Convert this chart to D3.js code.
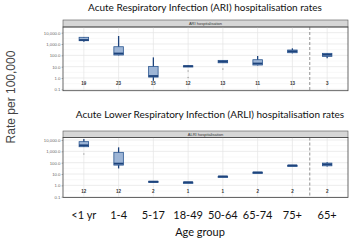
<!DOCTYPE html>
<html>
<head>
<meta charset="utf-8">
<script src="https://cdn.jsdelivr.net/npm/d3@7"></script>
<style>
  body { margin: 0; background: #fff; }
  svg { display: block; }
</style>
</head>
<body>
<div id="chart"></div>
<script>
////////////////////////////////////////////////////////////
//////////////////// Data ///////////
////////////////////////////////////////////////////////////

var ageGroups = ["<1 yr", "1-4", "5-17", "18-49", "50-64", "65-74", "75+", "65+"];
var yTicks = [0.1, 1, 10, 100, 1000, 10000];

// ARI hospitalisation
var ariLow  = [1600, 100, 0.56, 9.5, 21, 13, 150, 54];
var ariQ1   = [1950, 107, 1.2, 9.8, 22, 14, 170, 81];
var ariMed  = [2250, 145, 1.5, 11, 28, 19, 225, 113];
var ariQ3   = [3900, 575, 10.6, 12, 36, 41, 295, 150];
var ariHigh = [4150, 5100, 66, 12.5, 37, 87, 415, 160];
var ariOut  = [[], [], [], [4.1, 1.1], [6.1], [], [], []];
var ariN    = [19, 23, 15, 12, 13, 11, 13, 3];

// ALRI hospitalisation
var alriLow  = [2400, 31, 1.85, 1.9, 6.2, 13, 58, 46];
var alriQ1   = [2550, 61, 1.9, 1.9, 6.2, 13.2, 58, 53];
var alriMed  = [3400, 83, 2.1, 1.9, 6.2, 13.8, 58, 71];
var alriQ3   = [7100, 815, 2.3, 1.9, 6.2, 14.4, 58, 92];
var alriHigh = [12300, 2250, 2.35, 1.9, 6.2, 14.6, 58, 110];
var alriOut  = [[575], [], [], [], [], [], [], []];
var alriN    = [12, 12, 2, 1, 1, 2, 2, 2];

var countLevel = 0.3; // where the n labels sit on the log axis

////////////////////////////////////////////////////////////

var W = 353, H = 241;
var left = 63, right = 348;

var svg = d3.select("#chart").append("svg")
  .attr("width", W)
  .attr("height", H);

var x = d3.scalePoint()
  .domain(ageGroups)
  .range([left, right])
  .padding(0.6);

var boxW = 9.5;
var boxFill = "#9db5d6", boxLine = "#2b5690", medLine = "#1d437c";

function rows(low, q1, med, q3, high, out, n) {
  return ageGroups.map(function (g, i) {
    return { group: g, low: low[i], q1: q1[i], med: med[i], q3: q3[i], high: high[i], out: out[i], n: n[i] };
  });
}

function renderPanel(p) {
  var g = svg.append("g");

  var y = d3.scaleLog()
    .domain(p.domain)
    .range([p.bottom, p.top]);

  // strip header
  g.append("rect")
    .attr("x", left).attr("y", p.stripTop)
    .attr("width", right - left).attr("height", p.top - p.stripTop)
    .attr("fill", "#d6d6d6").attr("stroke", "#555").attr("stroke-width", 0.6);
  g.append("text")
    .attr("x", (left + right) / 2).attr("y", p.stripTop + (p.top - p.stripTop) / 2 + 1.4)
    .attr("text-anchor", "middle")
    .style("font-family", "Liberation Sans, Arial, sans-serif")
    .style("font-size", "4px")
    .attr("fill", "#333")
    .text(p.strip);

  // minor + major gridlines
  var minor = yTicks.map(function (t) { return t * Math.sqrt(10); });
  g.selectAll(".minor").data(minor.filter(function (v) { return y(v) > p.top; }))
    .enter().append("line")
    .attr("x1", left).attr("x2", right)
    .attr("y1", function (d) { return y(d); }).attr("y2", function (d) { return y(d); })
    .attr("stroke", "#f0f0f0").attr("stroke-width", 0.5);
  g.selectAll(".major").data(yTicks)
    .enter().append("line")
    .attr("x1", left).attr("x2", right)
    .attr("y1", function (d) { return y(d); }).attr("y2", function (d) { return y(d); })
    .attr("stroke", "#e4e4e4").attr("stroke-width", 0.7);
  g.selectAll(".vgrid").data(ageGroups)
    .enter().append("line")
    .attr("x1", function (d) { return x(d); }).attr("x2", function (d) { return x(d); })
    .attr("y1", p.top).attr("y2", p.bottom)
    .attr("stroke", "#e4e4e4").attr("stroke-width", 0.7);

  // dashed separator between 75+ and 65+
  var sep = (x(ageGroups[6]) + x(ageGroups[7])) / 2;
  g.append("line")
    .attr("x1", sep).attr("x2", sep)
    .attr("y1", p.top).attr("y2", p.bottom)
    .attr("stroke", "#777").attr("stroke-width", 0.8)
    .attr("stroke-dasharray", "3,2");

  // y axis
  var axis = g.append("g")
    .attr("transform", "translate(" + left + ",0)")
    .call(d3.axisLeft(y).tickValues(yTicks).tickFormat(d3.format(",.1f")).tickSize(1.5).tickPadding(1));
  axis.select(".domain").remove();
  axis.selectAll("line").attr("stroke", "#777").attr("stroke-width", 0.5);
  axis.selectAll("text")
    .style("font-family", "Liberation Sans, Arial, sans-serif")
    .style("font-size", "4.3px")
    .attr("fill", "#666");

  var data = p.data;
  var box = g.selectAll(".box").data(data).enter().append("g");

  // whiskers
  box.append("line")
    .attr("x1", function (d) { return x(d.group); }).attr("x2", function (d) { return x(d.group); })
    .attr("y1", function (d) { return y(d.high); }).attr("y2", function (d) { return y(d.low); })
    .attr("stroke", medLine).attr("stroke-width", 1.3);

  box.append("rect")
    .attr("x", function (d) { return x(d.group) - boxW / 2; })
    .attr("width", boxW)
    .attr("y", function (d) { return y(d.q3); })
    .attr("height", function (d) { return Math.max(y(d.q1) - y(d.q3), 1.2); })
    .attr("fill", boxFill).attr("stroke", boxLine).attr("stroke-width", 0.8);

  box.append("line")
    .attr("x1", function (d) { return x(d.group) - boxW / 2; })
    .attr("x2", function (d) { return x(d.group) + boxW / 2; })
    .attr("y1", function (d) { return y(d.med); }).attr("y2", function (d) { return y(d.med); })
    .attr("stroke", medLine).attr("stroke-width", 1.8);

  // outliers
  box.selectAll(".out").data(function (d) { return d.out.map(function (v) { return { group: d.group, v: v }; }); })
    .enter().append("circle")
    .attr("cx", function (d) { return x(d.group); })
    .attr("cy", function (d) { return y(d.v); })
    .attr("r", 0.8)
    .attr("fill", "#aaa");

  // n labels
  box.append("text")
    .attr("x", function (d) { return x(d.group); })
    .attr("y", y(countLevel) + 1.5)
    .attr("text-anchor", "middle")
    .style("font-family", "Liberation Sans, Arial, sans-serif")
    .style("font-size", "4.5px")
    .style("font-weight", "bold")
    .attr("fill", "#333")
    .text(function (d) { return d.n; });

  // panel border
  g.append("rect")
    .attr("x", left).attr("y", p.top)
    .attr("width", right - left).attr("height", p.bottom - p.top)
    .attr("fill", "none").attr("stroke", "#444").attr("stroke-width", 0.8);

  // panel title
  svg.append("text")
    .attr("x", p.titleX).attr("y", p.titleY)
    .attr("text-anchor", "middle")
    .style("font-family", "Lato, 'Open Sans', sans-serif")
    .style("font-size", "10px")
    .attr("fill", "#111")
    .text(p.title);
}

renderPanel({
  title: "Acute Respiratory Infection (ARI) hospitalisation rates",
  titleX: 205, titleY: 10.5,
  strip: "ARI hospitalisation",
  stripTop: 20, top: 27, bottom: 90.7,
  domain: [Math.pow(10, -1.12), Math.pow(10, 4.5)],
  data: rows(ariLow, ariQ1, ariMed, ariQ3, ariHigh, ariOut, ariN)
});

renderPanel({
  title: "Acute Lower Respiratory Infection (ARLI) hospitalisation rates",
  titleX: 210, titleY: 118,
  strip: "ALRI hospitalisation",
  stripTop: 131, top: 137.5, bottom: 197.5,
  domain: [Math.pow(10, -1.07), Math.pow(10, 4.22)],
  data: rows(alriLow, alriQ1, alriMed, alriQ3, alriHigh, alriOut, alriN)
});

// x labels
svg.selectAll(".xlab").data(ageGroups)
  .enter().append("text")
  .attr("x", function (d) { return x(d); })
  .attr("y", 219)
  .attr("text-anchor", "middle")
  .style("font-family", "Lato, 'Open Sans', sans-serif")
  .style("font-size", "11px")
  .attr("fill", "#111")
  .text(function (d) { return d; });

svg.append("text")
  .attr("x", 200).attr("y", 235.5)
  .attr("text-anchor", "middle")
  .style("font-family", "Lato, 'Open Sans', sans-serif")
  .style("font-size", "11px")
  .attr("fill", "#111")
  .text("Age group");

svg.append("text")
  .attr("transform", "translate(15,97) rotate(-90)")
  .attr("text-anchor", "middle")
  .style("font-family", "Liberation Sans, Arial, sans-serif")
  .style("font-size", "12px")
  .attr("fill", "#444")
  .text("Rate per 100,000");
</script>
</body>
</html>
